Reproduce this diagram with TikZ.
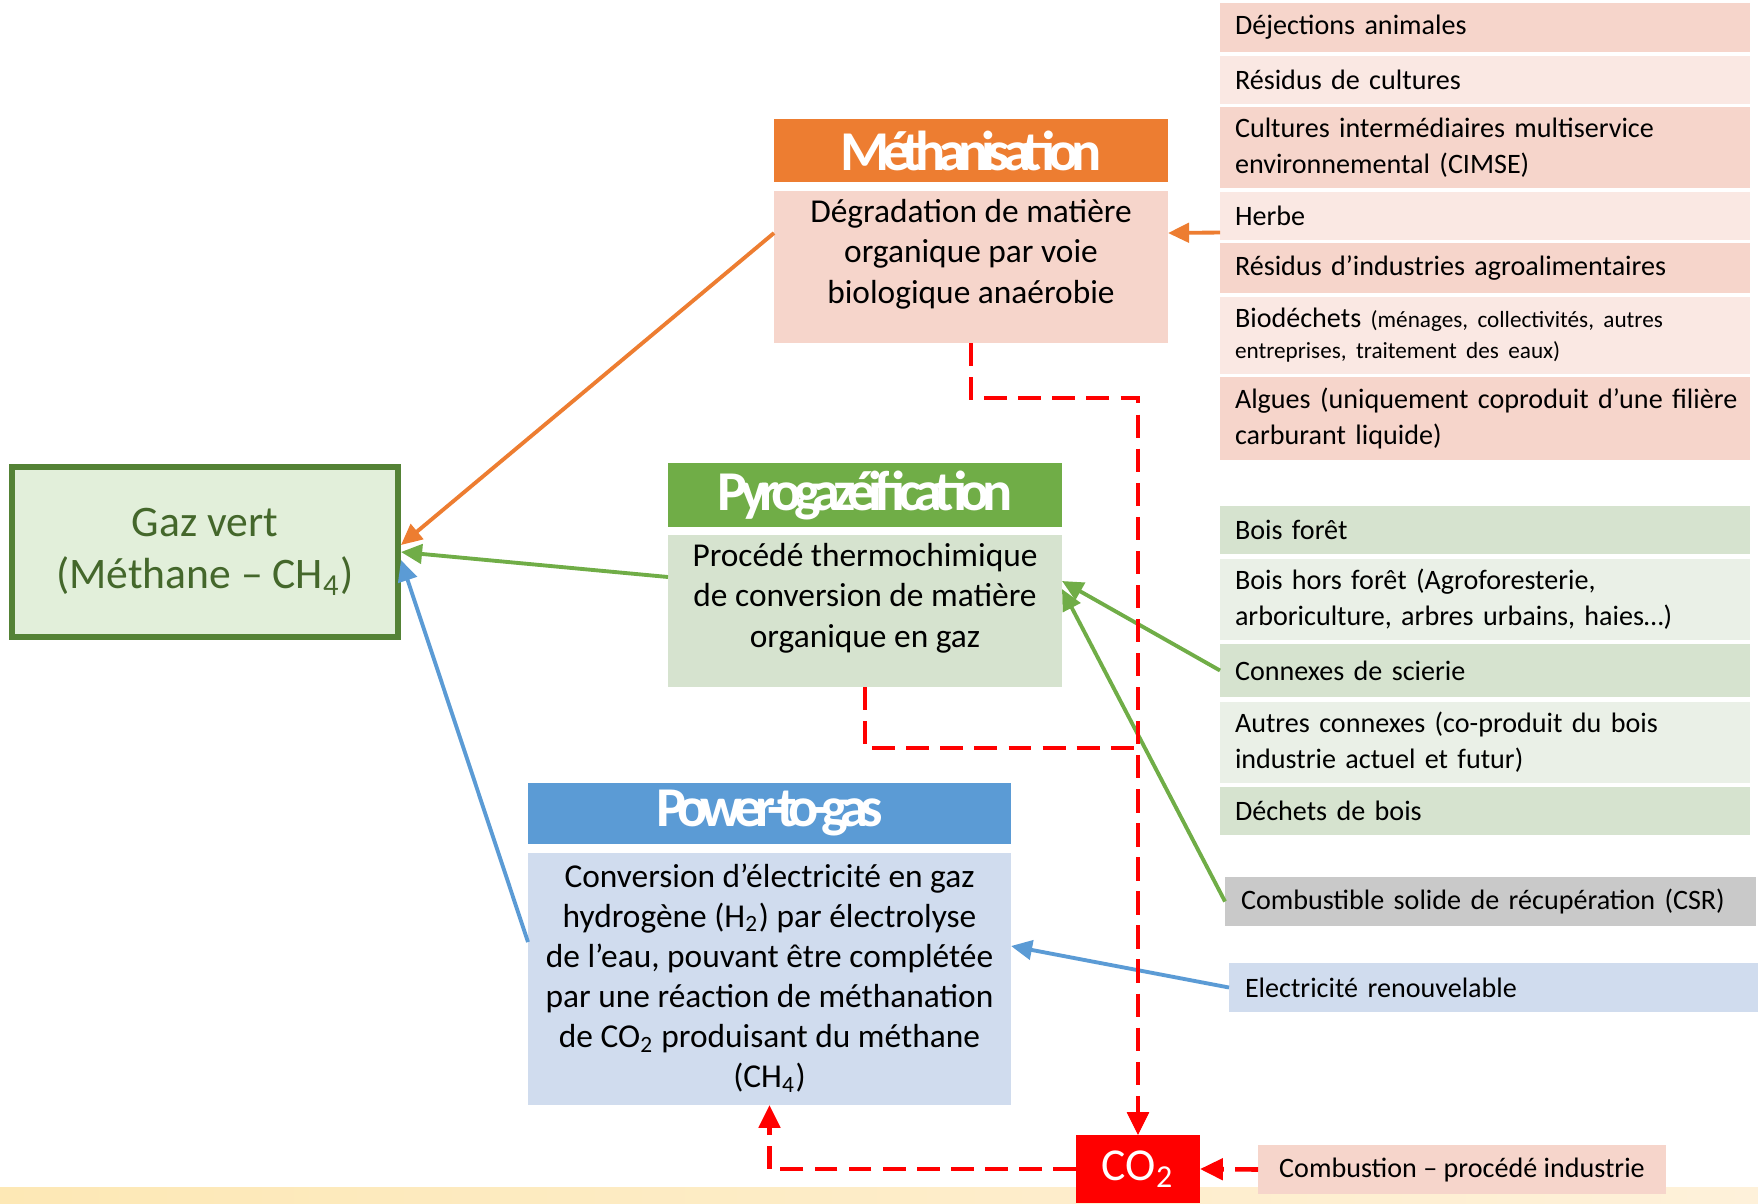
\documentclass[tikz,border=0pt]{standalone}
\usepackage{fontspec}
\setmainfont{Carlito}
\newfontfamily\titlefont{Carlito}[LetterSpace=-13]
\usetikzlibrary{arrows.meta, positioning}
\hyphenpenalty=10000
\exhyphenpenalty=10000

\definecolor{methOrange}{HTML}{ED7D31}
\definecolor{methPink}{HTML}{F6D5CB}
\definecolor{methPale}{HTML}{FAE8E3}
\definecolor{pyroGreen}{HTML}{70AD47}
\definecolor{pyroSage}{HTML}{D6E3CF}
\definecolor{pyroPale}{HTML}{EAF0E7}
\definecolor{ptgBlue}{HTML}{5B9BD5}
\definecolor{ptgPale}{HTML}{D0DCEE}
\definecolor{gazFill}{HTML}{E2EFDA}
\definecolor{gazLine}{HTML}{548235}
\definecolor{gazText}{HTML}{44672B}
\definecolor{csrGrey}{HTML}{C9C9C9}
\definecolor{co2Red}{HTML}{FF0000}
\definecolor{bandLeft}{HTML}{FDE8B5}
\definecolor{bandRight}{HTML}{FEF1DA}

\tikzset{>={Triangle[length=6pt, width=5.5pt]}}
\tikzstyle{header} = [rectangle, anchor = north west, inner sep = 0pt, outer sep = 0pt, text = white, font = \titlefont\bfseries\fontsize{16}{18}\selectfont]
\tikzstyle{process} = [rectangle, inner xsep = 0pt, inner ysep = 0.08cm, outer sep = 0pt, font = \fontsize{9.5}{11.6}\selectfont]
\tikzstyle{source} = [rectangle, minimum width = 5.3cm, text width = 5cm, inner xsep = 0.15cm, inner ysep = 0pt, outer sep = 0pt, align = left, font = \fontsize{8}{10.2}\selectfont]
\tikzstyle{feed} = [->, line width = 1.1pt]
\tikzstyle{carbon} = [-{Triangle[length=6.5pt, width=6pt]}, draw = co2Red, line width = 1.3pt, dash pattern = on 6.5pt off 3.2pt]

\newcommand{\proctext}[3]{\parbox[c][#1][t]{#2}{\centering #3}}

\begin{document}
\begin{tikzpicture}
    \useasboundingbox (0,0) rectangle (17.58,-12.03);
    \fill [left color = bandLeft, right color = bandRight] (0,-11.87) rectangle (17.58,-12.03);

    % green gas
    \node (gazVert) [rectangle, anchor = north west, minimum width = 3.86cm, minimum height = 1.70cm, draw = gazLine, line width = 1.7pt, fill = gazFill, align = center, text = gazText, font = \fontsize{12.4}{14.8}\selectfont] at (0.09,-4.64) {Gaz vert\\(Méthane – CH\textsubscript{4})};

    % processes
    \node (methHead) [header, fill = methOrange, minimum width = 3.94cm, minimum height = 0.63cm] at (7.74,-1.19) {Méthanisation};
    \node (methBody) [process, fill = methPink, below = 0.09cm of methHead] {\proctext{1.36cm}{3.94cm}{Dégradation de matière\\organique par voie\\biologique anaérobie}};
    \node (pyroHead) [header, fill = pyroGreen, minimum width = 3.94cm, minimum height = 0.64cm] at (6.68,-4.63) {Pyrogazéification};
    \node (pyroBody) [process, fill = pyroSage, below = 0.08cm of pyroHead] {\proctext{1.36cm}{3.94cm}{Procédé thermochimique\\de conversion de matière\\organique en gaz}};
    \node (ptgHead) [header, fill = ptgBlue, minimum width = 4.83cm, minimum height = 0.61cm] at (5.28,-7.83) {Power-to-gas};
    \node (ptgBody) [process, fill = ptgPale, inner ysep = 0.11cm, below = 0.09cm of ptgHead, font = \fontsize{9.5}{11.4}\selectfont] {\proctext{2.30cm}{4.83cm}{Conversion d’électricité en gaz\\hydrogène (H\textsubscript{2}) par électrolyse\\de l’eau, pouvant être complétée\\par une réaction de méthanation\\de CO\textsubscript{2} produisant du méthane\\(CH\textsubscript{4})}};

    % methanisation inputs
    \node (dejections) [source, anchor = north west, fill = methPink, minimum height = 0.49cm] at (12.20,-0.03) {Déjections animales};
    \node (cultures) [source, fill = methPale, minimum height = 0.48cm, below = 0.035cm of dejections] {Résidus de cultures};
    \node (cimse) [source, fill = methPink, minimum height = 0.81cm, below = 0.035cm of cultures] {Cultures intermédiaires multiservice\\environnemental (CIMSE)};
    \node (herbe) [source, fill = methPale, minimum height = 0.48cm, below = 0.035cm of cimse] {Herbe};
    \node (agroalim) [source, fill = methPink, minimum height = 0.50cm, below = 0.035cm of herbe] {Résidus d’industries agroalimentaires};
    \node (biodechets) [source, fill = methPale, minimum height = 0.77cm, below = 0.035cm of agroalim, font = \fontsize{8}{8.9}\selectfont] {Biodéchets {\fontsize{6.6}{8.9}\selectfont(ménages, collectivités, autres\\entreprises, traitement des eaux)}};
    \node (algues) [source, fill = methPink, minimum height = 0.83cm, below = 0.035cm of biodechets] {\mbox{Algues (uniquement coproduit d’une filière}\\carburant liquide)};

    % pyrogazeification inputs
    \node (foret) [source, anchor = north west, fill = pyroSage, minimum height = 0.48cm] at (12.20,-5.06) {Bois forêt};
    \node (horsForet) [source, fill = pyroPale, minimum height = 0.81cm, below = 0.045cm of foret] {Bois hors forêt (Agroforesterie,\\arboriculture, arbres urbains, haies…)};
    \node (scierie) [source, fill = pyroSage, minimum height = 0.53cm, below = 0.045cm of horsForet] {Connexes de scierie};
    \node (autresConnexes) [source, fill = pyroPale, minimum height = 0.81cm, below = 0.045cm of scierie] {Autres connexes (co-produit du bois\\industrie actuel et futur)};
    \node (dechetsBois) [source, fill = pyroSage, minimum height = 0.48cm, below = 0.045cm of autresConnexes] {Déchets de bois};
    \node (csr) [source, anchor = north west, fill = csrGrey, minimum width = 5.31cm, text width = 4.99cm, inner xsep = 0.16cm, minimum height = 0.49cm] at (12.25,-8.77) {Combustible solide de récupération (CSR)};

    % power-to-gas inputs
    \node (elec) [source, anchor = north west, fill = ptgPale, minimum width = 5.29cm, text width = 4.97cm, inner xsep = 0.16cm, minimum height = 0.49cm] at (12.29,-9.63) {Electricité renouvelable};
    \node (co2) [rectangle, anchor = north west, fill = co2Red, minimum width = 1.24cm, minimum height = 0.68cm, inner sep = 0pt, outer sep = 0pt, text = white, font = \fontsize{13}{15}\selectfont] at (10.76,-11.35) {CO\textsubscript{2}};
    \node (combustion) [rectangle, anchor = north west, fill = methPink, minimum width = 4.08cm, minimum height = 0.49cm, inner sep = 0pt, outer sep = 0pt, font = \fontsize{8}{10.2}\selectfont] at (12.58,-11.45) {Combustion – procédé industrie};

    \draw [feed, draw = methOrange] ([yshift = -0.17cm]herbe.west) -- ([yshift = 0.34cm]methBody.east);
    \draw [feed, draw = methOrange] ([yshift = 0.34cm]methBody.west) -- ([yshift = 0.07cm]gazVert.east);
    \draw [feed, draw = pyroGreen] ([yshift = 0.34cm]pyroBody.west) -- (gazVert.east);
    \draw [feed, draw = ptgBlue] ([yshift = 0.37cm]ptgBody.west) -- ([yshift = -0.08cm]gazVert.east);
    \draw [feed, draw = pyroGreen] (scierie.west) -- ([yshift = 0.30cm]pyroBody.east);
    \draw [feed, draw = pyroGreen] (csr.west) -- ([yshift = 0.22cm]pyroBody.east);
    \draw [feed, draw = ptgBlue] (elec.west) -- ([yshift = 0.33cm]ptgBody.east);

    \draw [carbon] (methBody.south) -- ++(0,-0.55) -| (co2.north);
    \draw [carbon] (pyroBody.south) -- ++(0,-0.61) -| (co2.north);
    \draw [carbon] (co2.west) -| (ptgBody.south);
    \draw [carbon] (combustion.west) -- (co2.east);
\end{tikzpicture}
\end{document}
